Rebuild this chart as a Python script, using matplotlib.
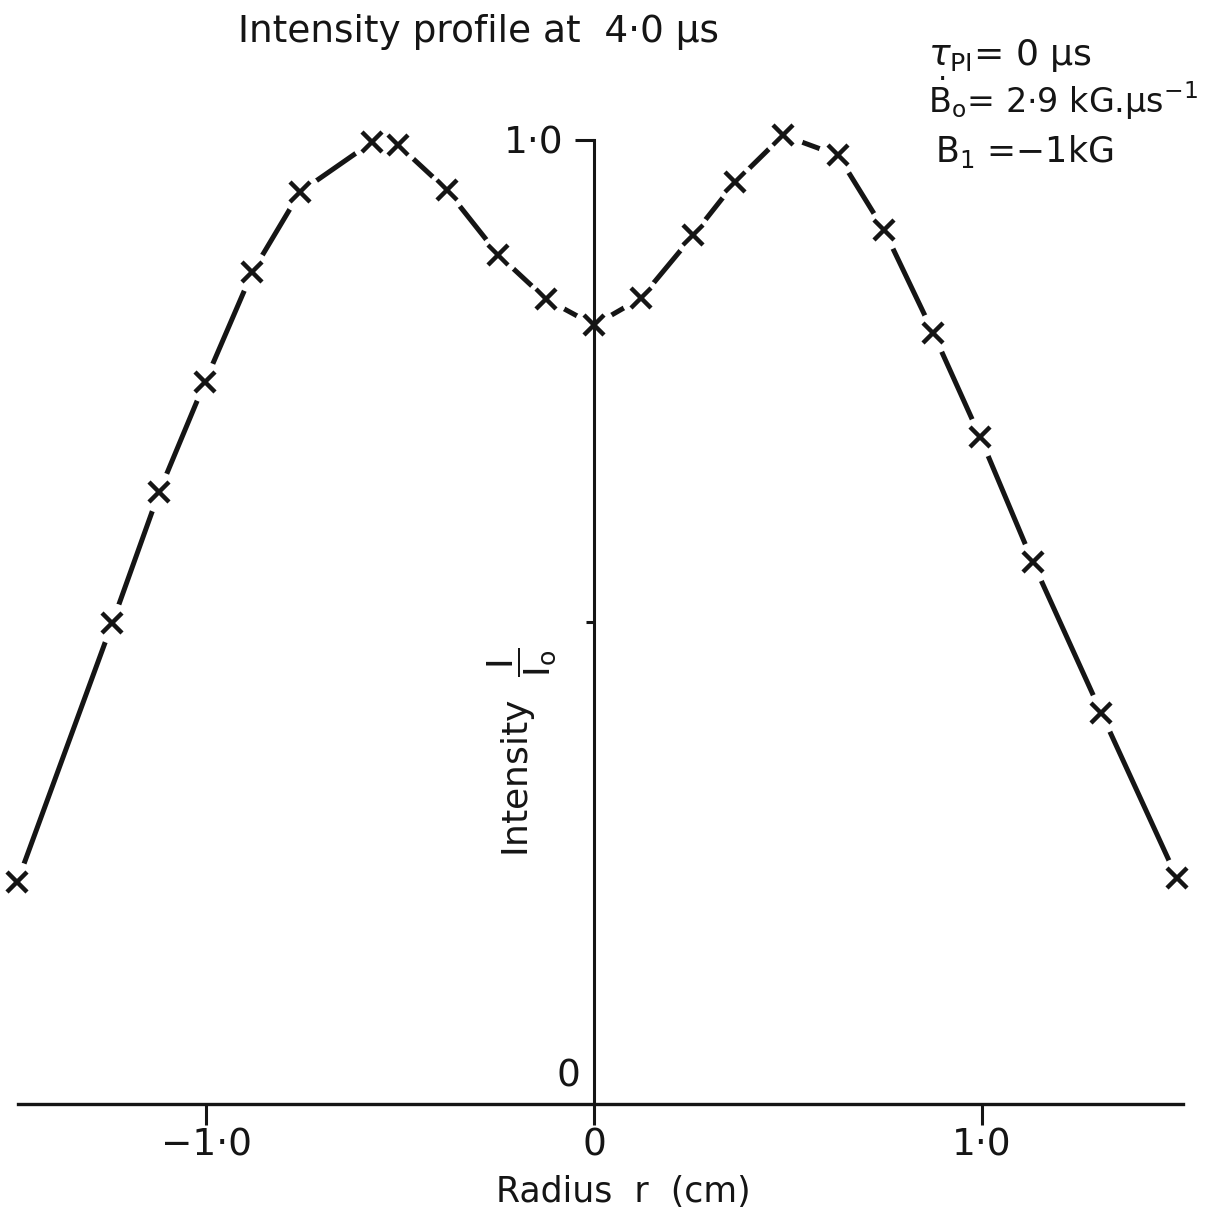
import numpy as np
import matplotlib
matplotlib.use("Agg")
import matplotlib.pyplot as plt

# radial intensity profile, I/I0 against radius (cm)
radius = [-1.487, -1.242, -1.121, -1.003, -0.881, -0.758, -0.572, -0.505,
          -0.379, -0.247, -0.124, 0.0, 0.121, 0.255, 0.363, 0.487,
          0.629, 0.747, 0.874, 0.995, 1.131, 1.307, 1.503]
intensity = [0.230, 0.499, 0.635, 0.749, 0.863, 0.946, 0.998, 0.995,
             0.948, 0.881, 0.835, 0.808, 0.836, 0.901, 0.956, 1.005,
             0.984, 0.907, 0.800, 0.692, 0.562, 0.406, 0.234]

x_ticks = [-1.0, 0.0, 1.0]
x_ticklabels = ["\u22121\u00b70", "0", "1\u00b70"]

plt.rcParams['font.family'] = ['DejaVu Sans']
ink = '#151515'

W, H = 1208, 1220
fig = plt.figure(figsize=(W / 100, H / 100), dpi=100)
ax = fig.add_axes([18 / W, (H - 1104) / H, (1183 - 18) / W, (1104 - 140) / H])
ax.set_xlim(-1.485, 1.518)
ax.set_ylim(0, 1.0)

# curve first, then blank discs so the line stops short of each cross
# (axis spines sit above the discs)
ax.plot(radius, intensity, color=ink, lw=3.6, solid_capstyle='round', clip_on=False, zorder=1)
ax.plot(radius, intensity, ls='none', marker='o', ms=29, mfc='white', mec='none',
        clip_on=False, zorder=1.5)
ax.plot(radius, intensity, ls='none', marker='x', ms=15, mew=3.2, color=ink,
        clip_on=False, zorder=4)

# axes crossing at the origin
for side in ['top', 'right']:
    ax.spines[side].set_visible(False)
ax.spines['left'].set_position(('data', 0))
ax.spines['left'].set_linewidth(2.2)
ax.spines['bottom'].set_linewidth(2.4)
ax.spines['left'].set_color(ink)
ax.spines['bottom'].set_color(ink)

ax.set_xticks(x_ticks)
ax.set_xticklabels(x_ticklabels, fontsize=27)
ax.tick_params(axis='x', direction='out', length=15, width=2.2, pad=2, colors=ink)
ax.set_yticks([1.0])
ax.set_yticklabels(["1\u00b70"], fontsize=27)
ax.set_yticks([0.5], minor=True)
ax.tick_params(axis='y', which='major', direction='out', length=14, width=2.2, pad=8, colors=ink)
ax.tick_params(axis='y', which='minor', direction='out', length=6, width=2.2, colors=ink)
ax.annotate("0", xy=(0, 0), xytext=(-10, 7), textcoords='offset points',
            ha='right', va='bottom', fontsize=27, color=ink)

fig.text(478 / W, 1 - 32 / H, "Intensity profile at  4\u00b70 \u00b5s",
         ha='center', va='center', fontsize=27, color=ink)
fig.text(623 / W, 1 - 1192 / H, "Radius  r  (cm)",
         ha='center', va='center', fontsize=25, color=ink)
fig.text(522 / W, 1 - 752 / H, r"Intensity  $\dfrac{\mathrm{I}}{\mathrm{I_o}}$",
         ha='center', va='center', rotation=90, fontsize=26, color=ink)

# run conditions
fig.text(928 / W, 1 - 55 / H, r"$\tau_{\rm PI}$= 0 $\mathrm{\mu}$s",
         ha='left', va='center', fontsize=26, color=ink)
fig.text(928 / W, 1 - 98 / H, r"$\dot{\rm B}_{\rm o}$= 2$\cdot$9 kG.$\mathrm{\mu}$s$^{-1}$",
         ha='left', va='center', fontsize=24, color=ink)
fig.text(935 / W, 1 - 152 / H, r"B$_{\rm 1}$ =$-$1kG",
         ha='left', va='center', fontsize=25, color=ink)

fig.savefig("out.png", dpi=100, facecolor='white')
